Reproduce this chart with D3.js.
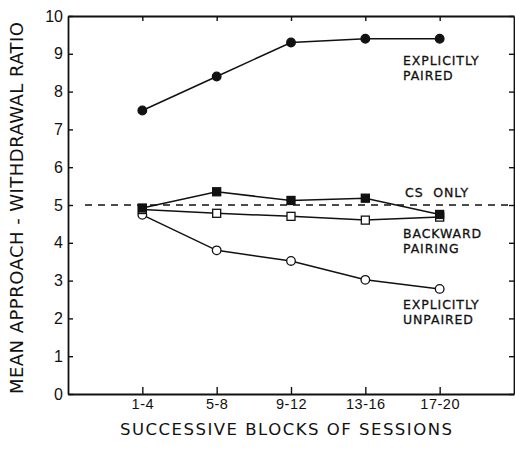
<!DOCTYPE html>
<html>
<head>
<meta charset="utf-8">
<script src="https://cdn.jsdelivr.net/npm/d3@7"></script>
<style>
  html, body { margin: 0; padding: 0; background: #fff; }
  svg { display: block; font-family: 'DejaVu Sans', sans-serif; }
  .axis path, .axis line { stroke: #111; }
  .axis text { fill: #111; }
</style>
</head>
<body>
<div id="chart"></div>
<script>
const blocks = ['1-4', '5-8', '9-12', '13-16', '17-20'];
const explicitlyPaired = [7.5, 8.4, 9.3, 9.4, 9.4];
const csOnly = [4.92, 5.35, 5.12, 5.18, 4.75];
const backwardPairing = [4.88, 4.78, 4.7, 4.6, 4.68];
const explicitlyUnpaired = [4.74, 3.8, 3.52, 3.02, 2.78];
const yTicks = [0, 1, 2, 3, 4, 5, 6, 7, 8, 9, 10];
const csLevel = 5;

const w = 515, h = 452;
const svg = d3.select('#chart').append('svg').attr('width', w).attr('height', h);

const x = d3.scaleLinear().domain([-1, 5]).range([68, 514]);
const y = d3.scaleLinear().domain([0, 10]).range([394, 16]);
const idx = blocks.map((_, i) => i);

// axes, ticks pointing into the frame
const left = svg.append('g').attr('class', 'axis').attr('transform', `translate(${x(-1)},0)`)
  .call(d3.axisLeft(y).tickValues(yTicks).tickSizeInner(-5).tickSizeOuter(0).tickPadding(5));
left.selectAll('text').attr('font-size', 16);

const bottom = svg.append('g').attr('class', 'axis').attr('transform', `translate(0,${y(0)})`)
  .call(d3.axisBottom(x).tickValues(idx).tickFormat(i => blocks[i]).tickSizeInner(-7).tickSizeOuter(0).tickPadding(5));
bottom.selectAll('text').attr('font-size', 14.5).attr('letter-spacing', 0.5);

svg.append('g').attr('class', 'axis').attr('transform', `translate(0,${y(10)})`)
  .call(d3.axisTop(x).tickValues(idx).tickFormat('').tickSizeInner(-5).tickSizeOuter(0));

svg.append('g').attr('class', 'axis').attr('transform', `translate(${x(5)},0)`)
  .call(d3.axisRight(y).tickValues(yTicks).tickFormat('').tickSizeInner(-5).tickSizeOuter(0));

svg.selectAll('.axis path').attr('stroke-width', 1.8);
svg.selectAll('.axis line').attr('stroke-width', 1.4);

// CS only reference level
svg.append('line')
  .attr('x1', 85).attr('x2', x(5))
  .attr('y1', y(csLevel)).attr('y2', y(csLevel))
  .attr('stroke', '#111').attr('stroke-width', 1.4)
  .attr('stroke-dasharray', '7,6');

const line = d3.line().x((d, i) => x(i)).y(d => y(d));

const series = [
  { vals: explicitlyUnpaired, shape: 'circle', fill: '#fff' },
  { vals: backwardPairing, shape: 'square', fill: '#fff' },
  { vals: csOnly, shape: 'square', fill: '#111' },
  { vals: explicitlyPaired, shape: 'circle', fill: '#111' }
];

series.forEach(s => {
  svg.append('path').datum(s.vals)
    .attr('d', line).attr('fill', 'none')
    .attr('stroke', '#111').attr('stroke-width', 1.5);
  const g = svg.append('g');
  if (s.shape === 'circle') {
    g.selectAll('circle').data(s.vals).enter().append('circle')
      .attr('cx', (d, i) => x(i)).attr('cy', d => y(d)).attr('r', 4.3)
      .attr('fill', s.fill).attr('stroke', '#111').attr('stroke-width', 1.3);
  } else {
    g.selectAll('rect').data(s.vals).enter().append('rect')
      .attr('x', (d, i) => x(i) - 4).attr('y', d => y(d) - 4)
      .attr('width', 8).attr('height', 8)
      .attr('fill', s.fill).attr('stroke', '#111').attr('stroke-width', 1.3);
  }
});

// series labels, one text per line
const labels = [
  { lines: ['EXPLICITLY', 'PAIRED'], x: 403, y: 65 },
  { lines: ['CS  ONLY'], x: 405, y: 197 },
  { lines: ['BACKWARD', 'PAIRING'], x: 403, y: 238 },
  { lines: ['EXPLICITLY', 'UNPAIRED'], x: 403, y: 309 }
];
labels.forEach(l => {
  l.lines.forEach((s, i) => {
    svg.append('text').attr('x', l.x).attr('y', l.y + i * 14.5)
      .attr('font-size', 12.5).attr('letter-spacing', 0.9)
      .attr('fill', '#111').attr('stroke', '#111').attr('stroke-width', 0.3)
      .attr('xml:space', 'preserve')
      .text(s);
  });
});

// axis titles
svg.append('text')
  .attr('x', 286).attr('y', 435)
  .attr('text-anchor', 'middle').attr('font-size', 16.5).attr('fill', '#111')
  .attr('textLength', 332).attr('lengthAdjust', 'spacing')
  .text('SUCCESSIVE BLOCKS OF SESSIONS');

svg.append('text')
  .attr('transform', 'translate(23,208) rotate(-90)')
  .attr('text-anchor', 'middle').attr('font-size', 18).attr('fill', '#111')
  .attr('textLength', 372).attr('lengthAdjust', 'spacing')
  .text('MEAN APPROACH - WITHDRAWAL RATIO');
</script>
</body>
</html>
